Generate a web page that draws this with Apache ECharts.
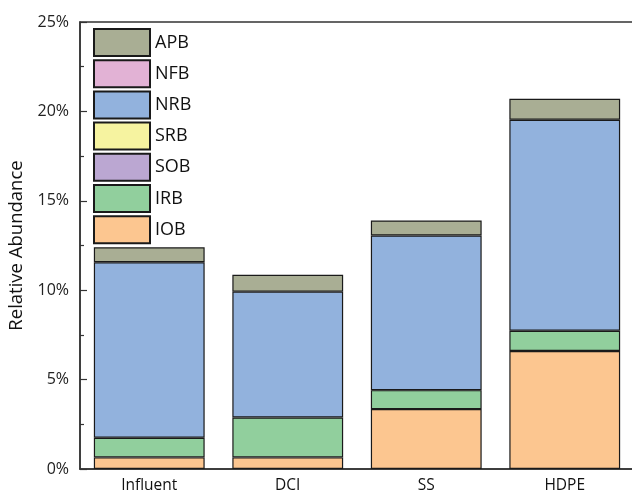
<!DOCTYPE html>
<html>
<head>
<meta charset="utf-8">
<script src="https://cdn.jsdelivr.net/npm/echarts@6/dist/echarts.min.js"></script>
<style>html,body{margin:0;padding:0;background:#fff;}#c{width:632px;height:494px;}</style>
</head>
<body>
<div id="c"></div>
<script>
var categories = ['Influent', 'DCI', 'SS', 'HDPE'];
var IOB = [0.65, 0.65, 3.35, 6.6];
var IRB = [1.1, 2.23, 1.06, 1.13];
var SOB = [0, 0, 0, 0];
var SRB = [0, 0, 0, 0];
var NRB = [9.81, 7.04, 8.65, 11.8];
var NFB = [0, 0, 0, 0];
var APB = [0.84, 0.94, 0.84, 1.18];
var legendOrder = ['APB', 'NFB', 'NRB', 'SRB', 'SOB', 'IRB', 'IOB'];

var font = '"Open Sans", "Noto Sans", sans-serif';
function mk(name, data, color) {
  return {
    name: name, type: 'bar', stack: 'total',
    data: data.map(function (v) { return v === 0 ? '-' : v; }),
    barWidth: '80%',
    itemStyle: { color: color, borderColor: '#1a1a1a', borderWidth: 1.2 },
    emphasis: { disabled: true }
  };
}
var chart = echarts.init(document.getElementById('c'));
chart.setOption({
  animation: false,
  grid: { left: 80, right: -2, top: 22, bottom: 25, containLabel: false, outerBoundsMode: 'none',
          show: true, borderColor: '#333', borderWidth: 1.5 },
  legend: {
    data: legendOrder, orient: 'vertical', left: 93, top: 28, padding: 0,
    icon: 'rect',
    itemWidth: 56, itemHeight: 27, itemGap: 2.2,
    textStyle: { fontFamily: font, fontSize: 18, color: '#111', lineHeight: 27 }
  },
  xAxis: {
    type: 'category', data: categories,
    axisLine: { lineStyle: { color: '#333', width: 1.5 } },
    axisTick: { show: false },
    axisLabel: { fontFamily: font, fontSize: 15.5, color: '#111', margin: 9 }
  },
  yAxis: {
    type: 'value', min: 0, max: 25, interval: 5,
    name: 'Relative Abundance', nameLocation: 'middle', nameGap: 51,
    nameTextStyle: { fontFamily: font, fontSize: 18.5, color: '#111' },
    axisLine: { show: true, lineStyle: { color: '#333', width: 1.5 } },
    axisTick: { show: true, inside: true, length: 7, lineStyle: { color: '#333', width: 1.2 } },
    minorTick: { show: true, splitNumber: 2, length: 4, lineStyle: { color: '#333', width: 1.2 } },
    splitLine: { show: false },
    axisLabel: { fontFamily: font, fontSize: 16, color: '#222', margin: 11, formatter: '{value}%' }
  },
  series: [
    mk('IOB', IOB, '#fcc690'),
    mk('IRB', IRB, '#91cf9d'),
    mk('SOB', SOB, '#bba7d2'),
    mk('SRB', SRB, '#f6f3a0'),
    mk('NRB', NRB, '#92b2dd'),
    mk('NFB', NFB, '#e2b2d5'),
    mk('APB', APB, '#a9ae94')
  ]
});
</script>
</body>
</html>
